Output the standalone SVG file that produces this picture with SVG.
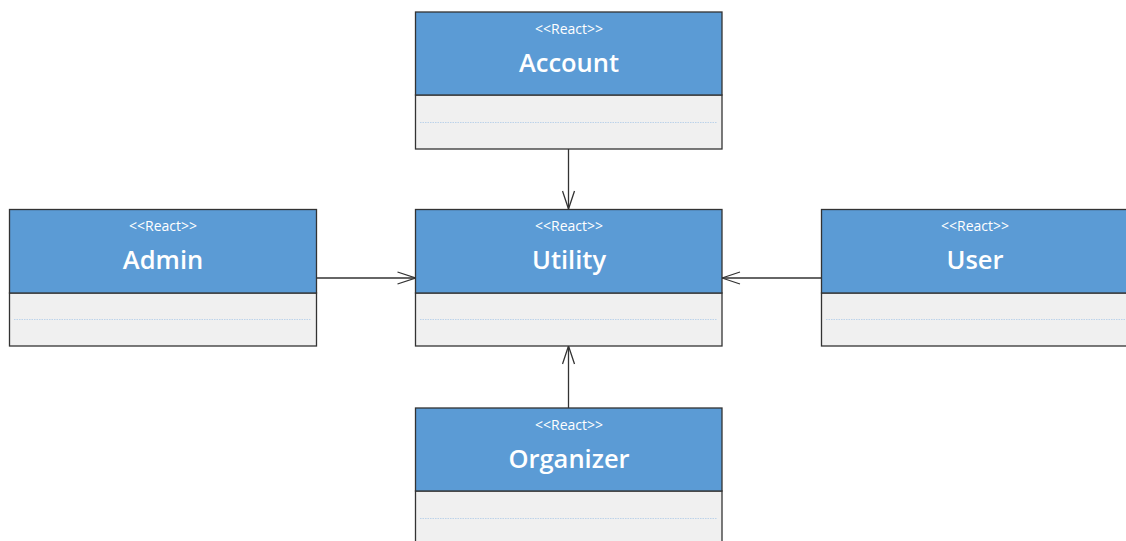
<svg xmlns="http://www.w3.org/2000/svg" width="1126" height="541" viewBox="0 0 1126 541">
<style>
.hdr{fill:#5B9BD5;stroke:#333;stroke-width:1.3}
.body{fill:#F0F0F0;stroke:#333;stroke-width:1.3}
.sep{stroke:#BCD3EA;stroke-width:1.2;stroke-dasharray:1.5 1}
.st{fill:#fff;font-family:"Open Sans","Noto Sans",sans-serif;font-size:14px;text-anchor:middle}
.nm{fill:#fff;font-family:"Open Sans","Noto Sans",sans-serif;font-size:25.5px;font-weight:600;text-anchor:middle}
.edge{stroke:#333;stroke-width:1.3;fill:none}
</style>
<defs>
<marker id="open" viewBox="0 0 20 14" refX="19" refY="7" markerWidth="20" markerHeight="14" markerUnits="userSpaceOnUse" orient="auto">
<path d="M1,1 L19,7 L1,13" fill="none" stroke="#333" stroke-width="1.3"/>
</marker>
</defs>
<rect width="1126" height="541" fill="#fff"/>
<g id="connectors">
<line class="edge" x1="568.5" y1="149" x2="568.5" y2="209" marker-end="url(#open)"/>
<line class="edge" x1="317" y1="278" x2="415.5" y2="278" marker-end="url(#open)"/>
<line class="edge" x1="821.5" y1="278" x2="722" y2="278" marker-end="url(#open)"/>
<line class="edge" x1="568.5" y1="408" x2="568.5" y2="346" marker-end="url(#open)"/>
</g>
<g id="account">
<rect class="body" x="415.5" y="95" width="306.5" height="54"/>
<rect class="hdr" x="415.5" y="12" width="306.5" height="83"/>
<line class="sep" x1="420" y1="122.5" x2="717" y2="122.5"/>
<text class="st" x="569" y="34">&lt;&lt;React&gt;&gt;</text>
<text class="nm" x="569" y="72">Account</text>
</g>
<g id="admin">
<rect class="body" x="9.5" y="293" width="307" height="53"/>
<rect class="hdr" x="9.5" y="209.5" width="307" height="83.5"/>
<line class="sep" x1="14" y1="319.5" x2="311" y2="319.5"/>
<text class="st" x="163" y="231">&lt;&lt;React&gt;&gt;</text>
<text class="nm" x="163" y="269">Admin</text>
</g>
<g id="utility">
<rect class="body" x="415.5" y="293" width="306.5" height="53"/>
<rect class="hdr" x="415.5" y="209.5" width="306.5" height="83.5"/>
<line class="sep" x1="420" y1="319.5" x2="717" y2="319.5"/>
<text class="st" x="569" y="231">&lt;&lt;React&gt;&gt;</text>
<text class="nm" x="569" y="269">Utility</text>
</g>
<g id="user">
<rect class="body" x="821.5" y="293" width="307" height="53"/>
<rect class="hdr" x="821.5" y="209.5" width="307" height="83.5"/>
<line class="sep" x1="826" y1="319.5" x2="1126" y2="319.5"/>
<text class="st" x="975" y="231">&lt;&lt;React&gt;&gt;</text>
<text class="nm" x="975" y="269">User</text>
</g>
<g id="organizer">
<rect class="body" x="415.5" y="491" width="306.5" height="60"/>
<rect class="hdr" x="415.5" y="408" width="306.5" height="83"/>
<line class="sep" x1="420" y1="518.5" x2="717" y2="518.5"/>
<text class="st" x="569" y="430">&lt;&lt;React&gt;&gt;</text>
<text class="nm" x="569" y="468">Organizer</text>
</g>
</svg>
